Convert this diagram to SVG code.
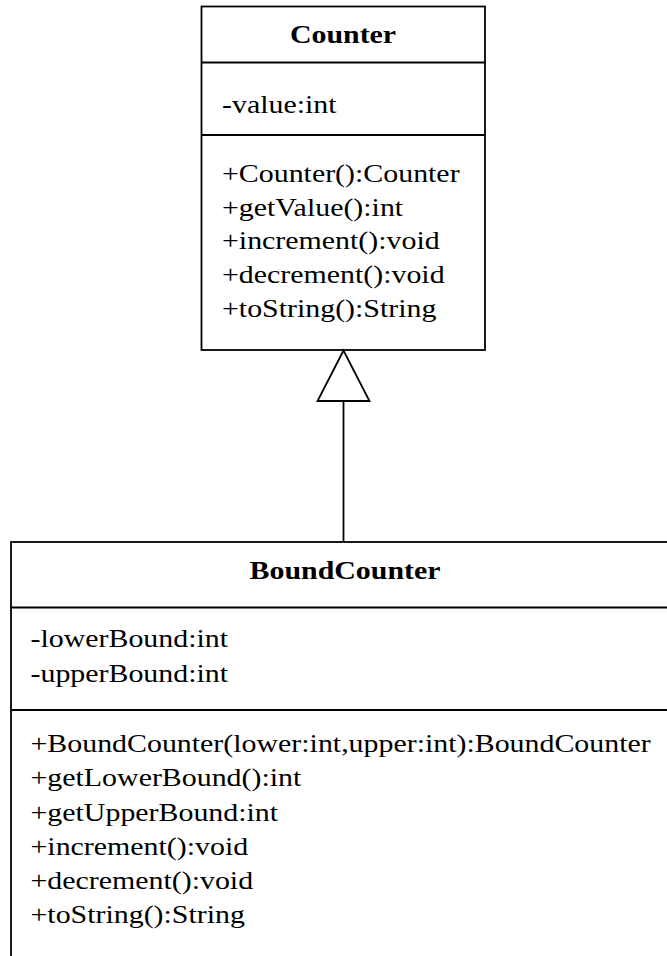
<svg xmlns="http://www.w3.org/2000/svg" width="667" height="956" viewBox="0 0 667 956">
  <style>
    .box { fill: #fff; stroke: #000; stroke-width: 1.8; }
    .sep { stroke: #000; stroke-width: 1.8; }
    text { font-family: "Liberation Serif", Tinos, "Times New Roman", Times, serif; font-size: 26px; fill: #000; }
    .title { font-weight: bold; text-anchor: middle; }
    .edge { fill: none; stroke: #000; stroke-width: 1.8; }
    .head { fill: #fff; stroke: #000; stroke-width: 1.8; stroke-linejoin: miter; }
  </style>

  <rect width="667" height="956" fill="#fff"/>

  <!-- Superclass -->
  <g id="counter">
    <rect class="box" x="201.5" y="6.5" width="283.5" height="343.5"/>
    <line class="sep" x1="201.5" y1="62.5" x2="485" y2="62.5"/>
    <line class="sep" x1="201.5" y1="135" x2="485" y2="135"/>
    <text class="title" transform="translate(343 43) scale(1.15 1)">Counter</text>
    <text transform="translate(222 113) scale(1.15 1)">-value:int</text>
    <text transform="translate(222 182) scale(1.15 1)">+Counter():Counter</text>
    <text transform="translate(222 215.7) scale(1.15 1)">+getValue():int</text>
    <text transform="translate(222 249.4) scale(1.15 1)">+increment():void</text>
    <text transform="translate(222 283.1) scale(1.15 1)">+decrement():void</text>
    <text transform="translate(222 316.8) scale(1.15 1)">+toString():String</text>
  </g>

  <!-- Subclass (runs past the right and bottom edges) -->
  <g id="boundcounter">
    <rect class="box" x="11" y="542" width="700" height="450"/>
    <line class="sep" x1="11" y1="607.5" x2="680" y2="607.5"/>
    <line class="sep" x1="11" y1="710" x2="680" y2="710"/>
    <text class="title" transform="translate(345 579) scale(1.15 1)">BoundCounter</text>
    <text transform="translate(30.5 647) scale(1.15 1)">-lowerBound:int</text>
    <text transform="translate(30.5 681.5) scale(1.15 1)">-upperBound:int</text>
    <text transform="translate(30.5 752) scale(1.15 1)">+BoundCounter(lower:int,upper:int):BoundCounter</text>
    <text transform="translate(30.5 786) scale(1.15 1)">+getLowerBound():int</text>
    <text transform="translate(30.5 820.5) scale(1.15 1)">+getUpperBound:int</text>
    <text transform="translate(30.5 855) scale(1.15 1)">+increment():void</text>
    <text transform="translate(30.5 889) scale(1.15 1)">+decrement():void</text>
    <text transform="translate(30.5 923) scale(1.15 1)">+toString():String</text>
  </g>

  <!-- Generalization: BoundCounter extends Counter -->
  <g id="connectors">
    <line class="edge" x1="343.5" y1="401" x2="343.5" y2="542"/>
    <polygon class="head" points="343.5,350.5 317.5,401 369.5,401"/>
  </g>
</svg>
